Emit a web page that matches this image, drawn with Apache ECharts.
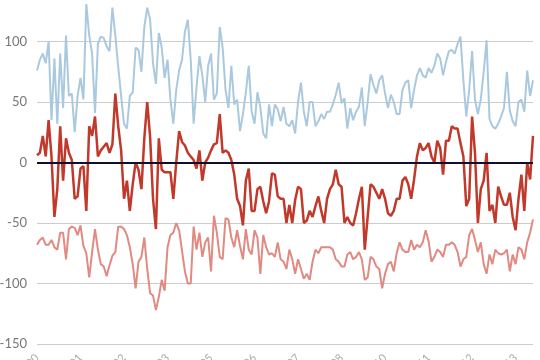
<!DOCTYPE html>
<html>
<head>
<meta charset="utf-8">
<script src="https://cdn.jsdelivr.net/npm/echarts@6/dist/echarts.min.js"></script>
<style>html,body{margin:0;padding:0;background:#fff}#c{width:540px;height:360px}</style>
</head>
<body>
<div id="c"></div>
<script>
var tickLabels = ['Jan 2000','Apr 2001','Jul 2002','Oct 2003','Jan 2005','Apr 2006','Jul 2007','Oct 2008','Jan 2010','Apr 2011','Jul 2012','Oct 2013'];

var seriesBlue = [
76,85,90,82,100,35,86,32,90,45,105,55,57,25,55,70,52,131,105,90,
41,98,104,103,96,92,128,105,79,55,32,28,55,58,95,93,75,112,128,118,
82,65,107,95,70,85,52,32,60,76,85,108,118,85,32,62,88,72,50,80,
90,52,57,112,95,60,45,80,48,52,26,40,58,80,42,32,58,46,24,20,
48,30,48,44,34,46,32,30,35,24,50,66,42,30,50,50,30,34,40,36,
42,42,48,56,66,49,53,28,45,35,42,46,62,30,50,73,64,57,68,72,
57,45,56,50,40,40,60,66,68,45,60,72,78,72,70,78,74,80,90,86,
72,83,92,93,90,98,104,68,38,60,92,52,40,52,75,101,36,30,28,32,
38,45,75,43,34,30,50,52,42,76,55,68];

var seriesRed = [
6,8,22,5,35,5,-45,-22,30,-15,20,8,2,-30,-28,-5,-3,-40,30,22,
38,5,10,13,16,8,15,57,30,10,-30,-15,-40,-18,0,-6,-22,20,50,21,
-30,-55,20,-6,-8,-8,-8,-30,0,26,17,14,8,5,2,-5,10,-15,0,4,
10,15,16,40,8,10,8,2,-10,-30,-36,-52,-15,-5,-40,-40,-22,-20,-32,-42,
-32,-9,-10,-28,-30,-30,-50,-35,-50,-31,-20,-22,-50,-48,-40,-45,-36,-28,-40,-50,
-30,-22,-18,-6,-18,-20,-50,-45,-50,-52,-42,-30,-20,-72,-45,-18,-20,-25,-30,-22,
-30,-42,-44,-40,-30,-30,-15,-12,-18,-30,-14,5,16,10,12,16,5,0,18,12,
-10,18,18,30,28,28,16,5,-36,-30,38,8,-50,-22,-15,8,-40,-35,-50,-20,
-28,-35,-35,-25,-45,-56,-30,-10,-40,0,-14,22];

var seriesSalmon = [
-68,-64,-62,-68,-68,-64,-70,-72,-58,-58,-80,-55,-53,-54,-60,-52,-69,-75,-95,-74,
-55,-72,-84,-86,-94,-85,-77,-74,-53,-53,-55,-60,-70,-84,-104,-82,-78,-62,-88,-108,
-110,-122,-111,-97,-106,-70,-60,-58,-50,-56,-73,-90,-100,-100,-53,-72,-58,-78,-66,-62,
-90,-44,-58,-78,-80,-46,-47,-62,-70,-56,-69,-80,-55,-72,-76,-56,-62,-92,-60,-70,
-76,-75,-78,-66,-80,-82,-88,-72,-80,-92,-80,-88,-96,-92,-97,-82,-72,-75,-70,-70,
-70,-70,-72,-80,-82,-86,-86,-76,-74,-80,-78,-74,-80,-97,-95,-78,-80,-86,-88,-104,
-92,-84,-82,-90,-75,-66,-72,-74,-74,-64,-72,-68,-70,-66,-56,-65,-82,-78,-72,-74,
-78,-68,-68,-66,-68,-74,-86,-80,-78,-60,-55,-64,-74,-66,-84,-92,-76,-84,-72,-75,
-76,-75,-72,-90,-76,-84,-70,-72,-80,-66,-58,-47];

var categories = seriesBlue.map(function (v, i) { return i; });
var labelEvery = 15;

var chart = echarts.init(document.getElementById('c'), null, {renderer: 'canvas'});
chart.setOption({
  animation: false,
  grid: {left: 37, right: 7, top: -19, bottom: 16, containLabel: false, outerBoundsMode: 'none'},
  xAxis: {
    type: 'category',
    data: categories,
    boundaryGap: false,
    axisLine: {show: false},
    axisTick: {show: false},
    splitLine: {show: false},
    axisLabel: {
      interval: labelEvery - 1,
      rotate: 45,
      margin: 12,
      color: '#aaa',
      fontFamily: 'Lato',
      fontSize: 11,
      formatter: function (v) { return tickLabels[Math.round(v / labelEvery)] || ''; }
    }
  },
  yAxis: {
    type: 'value',
    min: -150,
    max: 150,
    interval: 50,
    axisLine: {show: false},
    axisTick: {show: false},
    axisLabel: {color: '#777', fontFamily: 'Lato', fontSize: 13, margin: 10},
    splitLine: {lineStyle: {color: '#cccccc', width: 1}}
  },
  series: [
    {type: 'line', data: seriesBlue, showSymbol: false, lineStyle: {color: '#aac9df', width: 2}, itemStyle: {color: '#aac9df'}},
    {type: 'line', data: seriesSalmon, showSymbol: false, lineStyle: {color: '#e08a82', width: 2}, itemStyle: {color: '#e08a82'}},
    {type: 'line', data: seriesRed, showSymbol: false, lineStyle: {color: '#c0392b', width: 2.5}, itemStyle: {color: '#c0392b'},
      markLine: {silent: true, symbol: 'none', label: {show: false},
        lineStyle: {color: '#0f0f2e', width: 2, type: 'solid'}, data: [{yAxis: 0}]}}
  ]
});
</script>
</body>
</html>
